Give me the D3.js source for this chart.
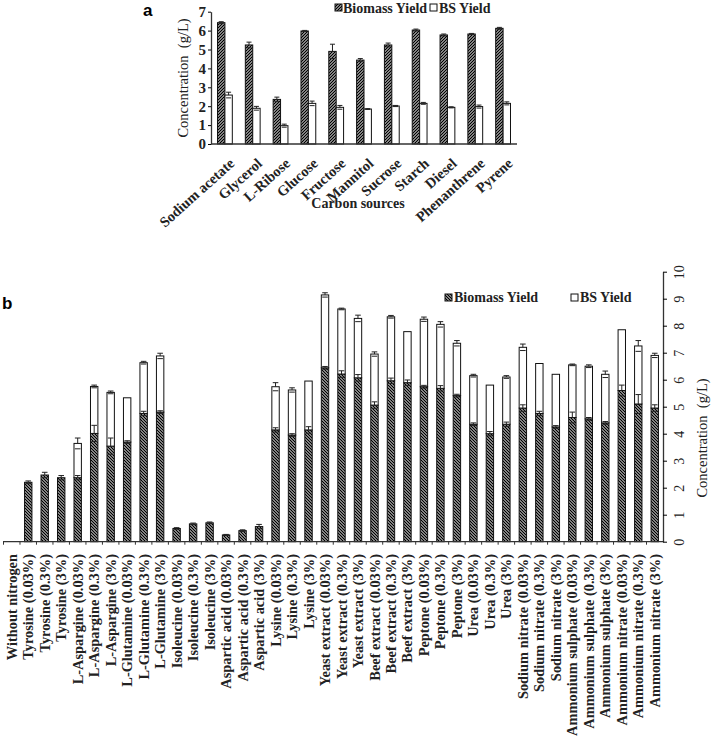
<!DOCTYPE html>
<html><head><meta charset="utf-8">
<script src="https://cdn.jsdelivr.net/npm/d3@7"></script>
<style>
body{margin:0;background:#fff;}
svg{display:block;font-family:"Liberation Serif","Times New Roman",serif;}
</style></head>
<body>
<svg id="c" width="711" height="744"></svg>
<script>
// ---- Panel a: carbon sources ----
const carbonSources = ["Sodium acetate","Glycerol","L-Ribose","Glucose","Fructose","Mannitol","Sucrose","Starch","Diesel","Phenanthrene","Pyrene"];
const carbonBiomass = [6.42,5.24,2.36,5.98,4.90,4.44,5.24,6.03,5.77,5.82,6.12];
const carbonBiomassErr = [0.05,0.15,0.12,0.03,0.38,0.08,0.10,0.05,0.05,0.03,0.05];
const carbonBS = [2.59,1.89,0.97,2.15,1.94,1.85,2.01,2.15,1.94,1.98,2.15];
const carbonBSErr = [0.15,0.10,0.08,0.12,0.10,0.02,0.03,0.05,0.03,0.08,0.08];
const aTicks = [0,1,2,3,4,5,6,7];

// ---- Panel b: nitrogen sources ----
const nitrogenSources = ["Without nitrogen","Tyrosine (0.03%)","Tyrosine (0.3%)","Tyrosine (3%)",
 "L-Aspargine (0.03%)","L-Aspargine (0.3%)","L-Aspargine (3%)",
 "L-Glutamine (0.03%)","L-Glutamine (0.3%)","L-Glutamine (3%)",
 "Isoleucine (0.03%)","Isoleucine (0.3%)","Isoleucine (3%)",
 "Aspartic acid (0.03%)","Aspartic acid (0.3%)","Aspartic acid (3%)",
 "Lysine (0.03%)","Lysine (0.3%)","Lysine (3%)",
 "Yeast extract (0.03%)","Yeast extract (0.3%)","Yeast extract (3%)",
 "Beef extract (0.03%)","Beef extract (0.3%)","Beef extract (3%)",
 "Peptone (0.03%)","Peptone (0.3%)","Peptone (3%)",
 "Urea (0.03%)","Urea (0.3%)","Urea (3%)",
 "Sodium nitrate (0.03%)","Sodium nitrate (0.3%)","Sodium nitrate (3%)",
 "Ammonium sulphate (0.03%)","Ammonium sulphate (0.3%)","Ammonium sulphate (3%)",
 "Ammonium nitrate (0.03%)","Ammonium nitrate (0.3%)","Ammonium nitrate (3%)"];
const nitroBiomass = [0,2.20,2.47,2.37,2.37,4.01,3.54,3.69,4.75,4.80,0.49,0.66,0.70,0.25,0.41,0.56,
 4.14,3.95,4.14,6.44,6.21,6.07,5.06,5.96,5.89,5.74,5.68,5.41,4.35,4.00,4.35,4.95,4.75,4.25,4.60,4.55,4.40,5.60,5.10,4.95];
const nitroBiomassErr = [0,0.05,0.10,0.08,0.08,0.30,0.30,0.05,0.08,0.05,0.03,0.03,0.03,0.02,0.03,0.08,
 0.08,0.05,0.12,0.05,0.12,0.12,0.12,0.10,0.10,0.05,0.10,0.05,0.05,0.08,0.08,0.12,0.08,0.05,0.20,0.05,0.05,0.20,0.35,0.12];
const nitroBS = [0,0,0,0,1.27,1.74,1.99,1.64,1.88,2.08,0,0,0,0,0,0,
 1.60,1.67,1.81,2.70,2.41,2.20,1.89,2.37,1.89,2.50,2.37,1.94,1.80,1.80,1.75,2.25,1.85,1.95,1.95,1.95,1.80,2.25,2.15,1.95];
const nitroBSErr = [0,0,0,0,0.20,0.05,0.05,0,0.05,0.10,0,0,0,0,0,0,
 0.15,0.08,0,0.08,0.03,0.12,0.08,0.05,0,0.08,0.10,0.10,0.05,0,0.05,0.12,0,0,0.03,0.05,0.12,0,0.20,0.08];
const bTicks = [0,1,2,3,4,5,6,7,8,9,10];

const svg = d3.select("#c");
const defs = svg.append("defs");
function hatch(id, d){
  const p = defs.append("pattern").attr("id",id).attr("patternUnits","userSpaceOnUse")
    .attr("width",3).attr("height",3);
  p.append("rect").attr("width",3).attr("height",3).attr("fill","#fff");
  p.append("path").attr("d",d).attr("stroke","#000").attr("stroke-width",1.4).attr("fill","none");
}
hatch("hA","M-0.75,0.75 l1.5,-1.5 M0,3 l3,-3 M2.25,3.75 l1.5,-1.5");
hatch("hB","M-0.75,2.25 l1.5,1.5 M0,0 l3,3 M2.25,-0.75 l1.5,1.5");

function errBar(g, x, y0, y1, w){
  g.append("line").attr("x1",x).attr("x2",x).attr("y1",y0).attr("y2",y1).attr("stroke","#222").attr("stroke-width",1);
  g.append("line").attr("x1",x-w).attr("x2",x+w).attr("y1",y1).attr("y2",y1).attr("stroke","#222").attr("stroke-width",1);
  g.append("line").attr("x1",x-w).attr("x2",x+w).attr("y1",y0*2-y1).attr("y2",y0*2-y1).attr("stroke","#222").attr("stroke-width",1);
}

// ===== Panel a =====
const ax = d3.scaleBand().domain(carbonSources).range([211,517]);
const ay = d3.scaleLinear().domain([0,7]).range([144,11.7]);
const ga = svg.append("g");
const bw = 7.4;
carbonSources.forEach((c,i)=>{
  const cx = ax(c)+ax.bandwidth()/2;
  ga.append("rect").attr("x",cx-bw).attr("width",bw).attr("y",ay(carbonBiomass[i])).attr("height",ay(0)-ay(carbonBiomass[i]))
    .attr("fill","url(#hA)").attr("stroke","#111").attr("stroke-width",1);
  ga.append("rect").attr("x",cx).attr("width",bw).attr("y",ay(carbonBS[i])).attr("height",ay(0)-ay(carbonBS[i]))
    .attr("fill","#fff").attr("stroke","#111").attr("stroke-width",1);
  errBar(ga, cx-bw/2, ay(carbonBiomass[i]), ay(carbonBiomass[i]+carbonBiomassErr[i]), 2.5);
  errBar(ga, cx+bw/2, ay(carbonBS[i]), ay(carbonBS[i]+carbonBSErr[i]), 2.5);
});
const yAxA = ga.append("g").attr("transform","translate(211,0)")
  .call(d3.axisLeft(ay).tickValues(aTicks).tickFormat(d3.format("d")).tickSize(3).tickSizeOuter(0));
yAxA.select(".domain").attr("stroke","#333").attr("stroke-width",1.3);
yAxA.selectAll("text").attr("font-size",15).attr("font-weight","bold").attr("font-family","Liberation Serif").attr("fill","#222").attr("x",-5);
ga.append("line").attr("x1",211).attr("x2",517).attr("y1",ay(0)).attr("y2",ay(0)).attr("stroke","#333").attr("stroke-width",1.3);
carbonSources.forEach(c=>{
  const cx = ax(c)+ax.bandwidth()/2;
  ga.append("text").attr("transform",`translate(${cx+7},${161}) rotate(-42)`)
    .attr("text-anchor","end").attr("dy","0.35em").attr("font-size",14.5).attr("font-weight","bold").attr("fill","#222").text(c);
});
ga.append("text").attr("transform","translate(188,78) rotate(-90)").attr("text-anchor","middle")
  .attr("font-size",14.5).attr("fill","#222").attr("xml:space","preserve").text("Concentration  (g/L)");
ga.append("text").attr("x",358).attr("y",208).attr("text-anchor","middle").attr("font-size",14).attr("font-weight","bold").attr("fill","#222").text("Carbon sources");
ga.append("text").attr("x",143).attr("y",16).attr("font-family","Liberation Sans").attr("font-weight","bold").attr("font-size",17).text("a");
// legend a
ga.append("rect").attr("x",335).attr("y",4).attr("width",7).attr("height",7).attr("fill","url(#hA)").attr("stroke","#111");
ga.append("text").attr("x",343).attr("y",13).attr("font-size",14).attr("font-weight","bold").attr("fill","#222").text("Biomass Yield");
ga.append("rect").attr("x",430).attr("y",4).attr("width",7).attr("height",7).attr("fill","#fff").attr("stroke","#111");
ga.append("text").attr("x",439).attr("y",13).attr("font-size",14).attr("font-weight","bold").attr("fill","#222").text("BS Yield");

// ===== Panel b =====
const bx = d3.scaleBand().domain(nitrogenSources).range([3.5,663]);
const by = d3.scaleLinear().domain([0,10]).range([541.7,271.7]);
const gb = svg.append("g");
const bw2 = 7.4;
nitrogenSources.forEach((c,i)=>{
  const cx = bx(c)+bx.bandwidth()/2;
  const bio = nitroBiomass[i], bs = nitroBS[i];
  if(bio>0){
    gb.append("rect").attr("x",cx-bw2/2).attr("width",bw2).attr("y",by(bio)).attr("height",by(0)-by(bio))
      .attr("fill","url(#hB)").attr("stroke","#111").attr("stroke-width",1);
  }
  if(bs>0){
    gb.append("rect").attr("x",cx-bw2/2).attr("width",bw2).attr("y",by(bio+bs)).attr("height",by(bio)-by(bio+bs))
      .attr("fill","#fff").attr("stroke","#111").attr("stroke-width",1);
  }
  if(bio>0) errBar(gb, cx, by(bio), by(bio+nitroBiomassErr[i]), 2.8);
  if(bs>0 && nitroBSErr[i]>0) errBar(gb, cx, by(bio+bs), by(bio+bs+nitroBSErr[i]), 2.8);
});
gb.append("line").attr("x1",3).attr("x2",663).attr("y1",by(0)).attr("y2",by(0)).attr("stroke","#333").attr("stroke-width",1.3);
nitrogenSources.forEach(c=>{
  const x0 = bx(c);
  gb.append("line").attr("x1",x0).attr("x2",x0).attr("y1",by(0)).attr("y2",by(0)+3).attr("stroke","#333");
});
const yAxB = gb.append("g").attr("transform","translate(663,0)")
  .call(d3.axisRight(by).tickValues(bTicks).tickFormat(d3.format("d")).tickSize(4).tickSizeOuter(0));
yAxB.select(".domain").attr("stroke","#333").attr("stroke-width",1.3);
yAxB.selectAll(".tick text").attr("font-size",14).attr("font-family","Liberation Serif").attr("fill","#222")
  .attr("x",0).attr("dy",0).attr("text-anchor","middle")
  .attr("transform","translate(16,0) rotate(-90) translate(0,5)");
gb.append("text").attr("transform","translate(707,438) rotate(-90)").attr("text-anchor","middle")
  .attr("font-size",14.5).attr("fill","#222").attr("xml:space","preserve").text("Concentration  (g/L)");
nitrogenSources.forEach(c=>{
  const cx = bx(c)+bx.bandwidth()/2;
  gb.append("text").attr("transform",`translate(${cx},${554}) rotate(-90)`)
    .attr("text-anchor","end").attr("dy","0.35em").attr("font-size",14.4).attr("font-weight","bold").attr("fill","#222").text(c);
});
gb.append("text").attr("x",2).attr("y",309).attr("font-family","Liberation Sans").attr("font-weight","bold").attr("font-size",17).text("b");
// legend b
gb.append("rect").attr("x",445).attr("y",294).attr("width",7).attr("height",7).attr("fill","url(#hB)").attr("stroke","#111");
gb.append("text").attr("x",454).attr("y",302).attr("font-size",14).attr("font-weight","bold").attr("fill","#222").text("Biomass Yield");
gb.append("rect").attr("x",571).attr("y",294).attr("width",7).attr("height",7).attr("fill","#fff").attr("stroke","#111");
gb.append("text").attr("x",580).attr("y",302).attr("font-size",14).attr("font-weight","bold").attr("fill","#222").text("BS Yield");
</script>
</body></html>
